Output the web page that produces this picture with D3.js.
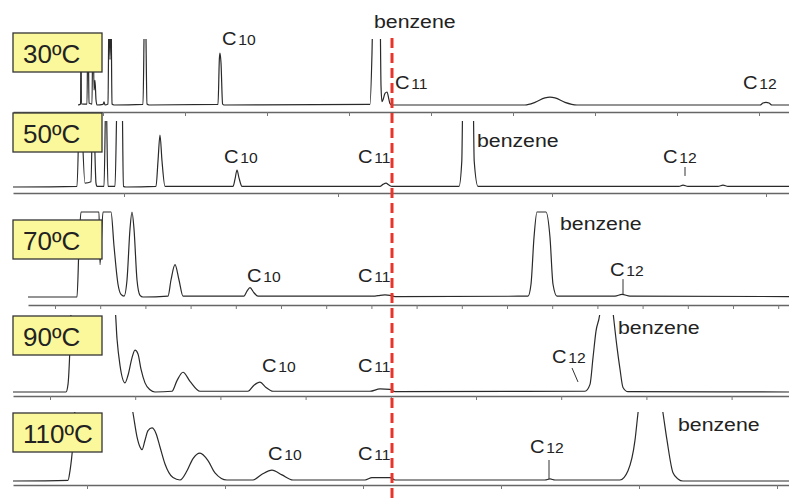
<!DOCTYPE html>
<html>
<head>
<meta charset="utf-8">
<script src="https://cdn.jsdelivr.net/npm/d3@7"></script>
<style>
  body { margin: 0; background: #fff; }
  svg { display: block; }
</style>
</head>
<body>
<svg id="chart" width="789" height="500"></svg>
<script>
// retention time (min) vs detector signal (% of panel full scale)
const temperatures = ["30ºC", "50ºC", "70ºC", "90ºC", "110ºC"];

const trace30 = [
  [1.625, 0], [1.69, 1.5], [1.70, 150], [1.71, 1.5], [1.85, 1.5], [1.875, 150], [1.90, 3],
  [1.975, 1.5], [2.00, 150], [2.025, 23], [2.05, 38], [2.075, 8], [2.10, 0], [2.25, 1],
  [2.275, 5], [2.30, 0], [2.375, 1.5], [2.40, 150], [2.425, 70], [2.45, 150], [2.475, 1.5],
  [2.525, 0], [3.25, 1], [3.29, 150], [3.31, 150], [3.35, 1.5], [3.40, 0], [5.125, 1],
  [5.16, 72], [5.175, 80], [5.20, 65], [5.24, 1.5], [5.275, 0], [8.925, 1], [8.975, 80],
  [9.00, 150], [9.175, 150], [9.20, 30], [9.225, 5], [9.25, 8], [9.30, 18], [9.35, 20],
  [9.40, 8], [9.425, 2], [9.475, 0], [12.8, 0], [13.05, 4], [13.3, 11], [13.425, 12],
  [13.55, 11], [13.8, 4], [14.1, 0], [18.675, 0], [18.75, 3], [18.825, 4], [18.9, 3],
  [18.975, 0], [19.4, 0]
];

const trace50 = [
  [0, 0], [1.6, 1], [1.675, 150], [1.80, 6], [1.95, 8], [2.00, 150], [2.075, 6], [2.10, 1],
  [2.275, 1], [2.325, 150], [2.375, 1], [2.55, 1], [2.61, 150], [2.725, 150], [2.76, 1],
  [2.825, 0], [3.575, 1], [3.625, 40], [3.675, 80], [3.725, 40], [3.80, 1], [5.5, 1],
  [5.55, 12], [5.60, 26], [5.65, 14], [5.725, 1], [9.175, 1], [9.25, 4], [9.325, 6],
  [9.40, 3], [9.475, 1], [11.15, 1], [11.22, 40], [11.25, 150], [11.5, 150], [11.53, 40],
  [11.625, 1], [16.65, 1], [16.75, 3], [16.875, 1], [17.625, 1], [17.75, 3], [17.875, 1],
  [19.4, 1]
];

const trace70 = [
  [0.375, 0], [1.6, 0], [1.65, 60], [1.70, 100], [2.15, 100], [2.175, 38], [2.25, 100],
  [2.45, 100], [2.525, 60], [2.625, 15], [2.70, 3], [2.775, 1], [2.85, 20], [2.925, 80],
  [2.975, 100], [3.025, 80], [3.10, 20], [3.175, 2], [3.25, 0], [3.875, 1], [3.95, 20],
  [4.05, 38], [4.15, 20], [4.25, 1], [5.775, 1], [5.85, 7], [5.925, 11], [6.025, 5],
  [6.125, 1], [9.05, 1], [9.175, 2], [9.30, 2.5], [9.425, 2], [9.55, 0.5], [12.875, 1],
  [12.95, 15], [13.025, 70], [13.10, 100], [13.325, 100], [13.425, 70], [13.50, 15],
  [13.60, 1], [15.05, 1], [15.225, 3], [15.425, 1], [19.4, 0.5]
];

const trace90 = [
  [0, 0], [1.325, 0], [1.375, 10], [1.425, 60], [1.475, 150], [1.55, 200], [2.55, 110],
  [2.60, 70], [2.675, 35], [2.80, 12], [2.875, 22], [2.975, 45], [3.05, 55], [3.125, 50],
  [3.20, 30], [3.30, 12], [3.425, 3], [3.55, 0], [3.975, 1], [4.10, 15], [4.25, 26],
  [4.425, 14], [4.675, 1], [5.875, 1], [6.025, 9], [6.175, 13], [6.325, 6], [6.50, 1],
  [8.925, 1], [9.175, 4], [9.425, 3.5], [9.55, 0.5], [14.30, 1], [14.425, 10], [14.50, 45],
  [14.575, 80], [14.675, 105], [14.8, 200], [15.00, 105], [15.10, 59], [15.175, 30],
  [15.25, 6], [15.375, 0.5], [19.4, 0]
];

const trace110 = [
  [0, 0], [1.375, 1], [1.425, 15], [1.50, 55], [1.60, 150], [2.3, 250], [3.00, 100],
  [3.10, 65], [3.175, 50], [3.225, 46], [3.30, 60], [3.375, 74], [3.475, 78], [3.575, 70],
  [3.675, 50], [3.80, 25], [4.00, 5], [4.175, 1.5], [4.35, 15], [4.50, 33], [4.675, 41],
  [4.875, 30], [5.05, 12], [5.35, 1.5], [6.00, 1.5], [6.225, 10], [6.475, 16], [6.725, 9],
  [7.00, 1.5], [8.80, 1.5], [8.975, 5], [9.425, 5], [9.55, 1.5], [13.30, 1.5], [13.425, 3],
  [13.55, 1.5], [15.175, 1.5], [15.375, 15], [15.55, 60], [15.625, 100], [15.925, 220],
  [16.25, 100], [16.35, 60], [16.50, 12], [16.625, 3], [16.75, 0], [19.4, 0]
];

// peak names: [name, retention of label, signal level of label]
const peaks30 = [["C10", 5.225, 92], ["benzene", 9.025, 118], ["C11", 9.55, 24.6], ["C12", 18.25, 24.6]];
const peaks50 = [["C10", 5.275, 37], ["C11", 8.625, 37], ["benzene", 11.6, 61.5], ["C12", 16.25, 37]];
const peaks70 = [["C10", 5.85, 17.6], ["C11", 8.625, 17.6], ["benzene", 13.675, 78.8], ["C12", 14.925, 24.7]];
const peaks90 = [["C10", 6.225, 26.3], ["C11", 8.625, 26.3], ["C12", 13.475, 38], ["benzene", 15.125, 76.3]];
const peaks110 = [["C10", 6.375, 30.9], ["C11", 8.625, 30.9], ["C12", 12.925, 41.2], ["benzene", 16.625, 73.5]];

// C12 pointer lines: [t1, s1, t2, s2]
const pointers = [null, [16.8, 30.8, 16.8, 17], [15.25, 21, 15.25, 3.5], [13.975, 31.6, 14.125, 13.2], [13.4, 30.9, 13.4, 3]];

// axis minor ticks: first tick and spacing (min)
const tickStart = [0.2, 2.775, 1.05, 0.925, 1.85];
const tickStep = [2.05, 5.35, 1.13, 2.13, 3.45];

const benzeneCut = 9.475;

// layout of the stacked panels (pixels)
const layout = [
  { base: 105, top: 40, axisY: 112, box: 33, x0: 13 },
  { base: 187, top: 122, axisY: 193, box: 113, x0: 13 },
  { base: 297, top: 212, axisY: 305, box: 220, x0: 28 },
  { base: 392, top: 316, axisY: 396, box: 316, x0: 13 },
  { base: 481, top: 413, axisY: 485, box: 413, x0: 13 }
];

const traces = [trace30, trace50, trace70, trace90, trace110];
const peakSets = [peaks30, peaks50, peaks70, peaks90, peaks110];

const svg = d3.select("#chart");
const x = d3.scaleLinear().domain([0, 19.4]).range([13, 789]);
const font = "'Liberation Sans', Arial, sans-serif";

layout.forEach((p, i) => {
  const y = d3.scaleLinear().domain([0, 100]).range([p.base, p.top]);
  const g = svg.append("g").attr("class", "panel");

  // axis
  const xa = x.copy().domain([x.invert(p.x0), 19.4]).range([p.x0, 789]);
  const ticks = d3.range(tickStart[i], 19.4, tickStep[i]).filter(t => x(t) >= p.x0);
  const axis = g.append("g")
    .attr("transform", `translate(0,${p.axisY})`)
    .call(d3.axisBottom(xa).tickValues(ticks).tickSize(4).tickSizeOuter(0).tickFormat(""));
  axis.select(".domain").attr("stroke", "#666").attr("stroke-width", 1.4);
  axis.selectAll(".tick line").attr("stroke", "#777").attr("stroke-width", 1);

  // clipped trace
  g.append("clipPath").attr("id", `clip${i}`)
    .append("rect").attr("x", 0).attr("y", p.top - 1).attr("width", 789).attr("height", p.axisY - p.top);
  g.append("path")
    .datum(traces[i])
    .attr("clip-path", `url(#clip${i})`)
    .attr("fill", "none")
    .attr("stroke", "#2a2a2a")
    .attr("stroke-width", 1.2)
    .attr("d", d3.line().x(d => x(d[0])).y(d => y(d[1])).curve(d3.curveMonotoneX));

  // temperature label box
  g.append("rect")
    .attr("x", 13).attr("y", p.box).attr("width", 89).attr("height", 39)
    .attr("fill", "#fbf89c").attr("stroke", "#333").attr("stroke-width", 1.3);
  g.append("text")
    .attr("x", 23).attr("y", p.box + 30)
    .attr("font-family", font).attr("font-size", 26).attr("fill", "#222")
    .text(temperatures[i]);

  // peak names
  peakSets[i].forEach(([name, t, s]) => {
    const lab = g.append("g")
      .attr("transform", `translate(${x(t)},${y(s)}) scale(1.12,1)`)
      .append("text")
      .attr("font-family", font).attr("fill", "#222");
    if (name === "benzene") {
      lab.attr("font-size", 19).text(name);
    } else {
      lab.append("tspan").attr("font-size", 18).text(name.slice(0, 1));
      lab.append("tspan").attr("font-size", 14).attr("dx", 1.5).text(name.slice(1));
    }
  });

  if (pointers[i]) {
    const [t1, s1, t2, s2] = pointers[i];
    g.append("line")
      .attr("x1", x(t1)).attr("y1", y(s1)).attr("x2", x(t2)).attr("y2", y(s2))
      .attr("stroke", "#333").attr("stroke-width", 1);
  }
});

// dashed marker
svg.append("line")
  .attr("x1", x(benzeneCut)).attr("x2", x(benzeneCut))
  .attr("y1", 38).attr("y2", 500)
  .attr("stroke", "#e8342b").attr("stroke-width", 3)
  .attr("stroke-dasharray", "10,5");
</script>
</body>
</html>
